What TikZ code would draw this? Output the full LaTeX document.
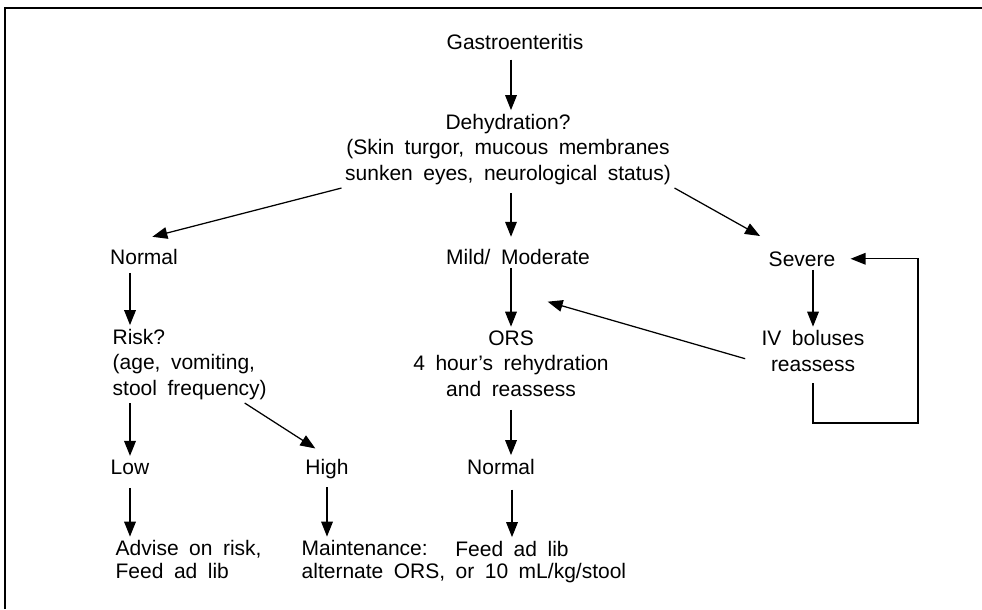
\documentclass[tikz,border=0pt]{standalone}
\usepackage{fontspec}
\setmainfont{Liberation Sans}[WordSpace=1.8]
\usetikzlibrary{arrows.meta}
\begin{document}
\begin{tikzpicture}[
  x=0.6pt, y=-0.6pt,
  txt/.style={font=\fontsize{12.6}{15.3}\selectfont, inner sep=2pt},
  bot/.style={font=\fontsize{12.6}{13.5}\selectfont},
  arr/.style={-{Triangle[length=9pt,width=7pt]}, line width=0.75pt}
]
\useasboundingbox (0,0) rectangle (982,609);
\draw [line width=1.3pt] (5,609) -- (5,8) -- (982,8);

% multi-line nodes sit on the baseline of their last line
\node [txt, anchor=base] (gas) at (515,49) {Gastroenteritis};
\node [txt, anchor=base, align=center] (dehyd) at (508,180) {Dehydration?\\(Skin turgor, mucous membranes\\sunken eyes, neurological status)};

\node [txt, anchor=base] (normal) at (144,264) {Normal};
\node [txt, anchor=base] (mild) at (518,264) {Mild/ Moderate};
\node [txt, anchor=base] (severe) at (802,266) {Severe};

\node [txt, anchor=base west, align=left] (risk) at (109,395) {Risk?\\(age, vomiting,\\stool frequency)};
\node [txt, anchor=base, align=center] (ors) at (511,396) {ORS\\4 hour's rehydration\\and reassess};
\node [txt, anchor=base, align=center] (iv) at (813,371) {IV boluses\\reassess};

\node [txt, anchor=base] (low) at (130,474) {Low};
\node [txt, anchor=base] (high) at (327,474) {High};
\node [txt, anchor=base] (ok) at (501,474) {Normal};

\node [txt, bot, anchor=base west, align=left] (advise) at (112,578) {Advise on risk,\\Feed ad lib};
\node [txt, bot, anchor=base west, align=left] (maint) at (298,578) {Maintenance:\\alternate ORS, or 10 mL/kg/stool};
\node [txt, anchor=base] (feed) at (512,556) {Feed ad lib};

\coordinate (loop) at (918,423);

\draw [arr, shorten <=4pt] (gas.south -| ors) -- (dehyd.north -| ors);
\draw [arr] (dehyd.south west) -- ([xshift=5pt,yshift=5pt]normal.north);
\draw [arr, shorten <=3pt] (dehyd.south -| ors) -- ([yshift=5pt]mild.north -| ors);
\draw [arr] (dehyd.south east) -- ([xshift=-3pt,yshift=7pt]severe.north west);

\draw [arr, shorten <=3pt] (normal.south -| low) -- (risk.north -| low);
\draw [arr] (risk.south -| low) -- (low.north);
\draw [arr] ([xshift=33pt]risk.south) -- ([xshift=-7pt,yshift=4pt]high.north);
\draw [arr, shorten <=6pt] (low) -- (low |- advise.north);
\draw [arr, shorten <=3pt] (high) -- (high |- maint.north);

\draw [arr] (mild.south -| ors) -- (ors);
\draw [arr, shorten <=6pt] (ors) -- (ors |- ok.north);
\draw [arr, shorten <=7pt] (ok.south -| feed) -- (feed);

\draw [arr] (severe.south -| iv) -- (iv);
\draw [arr, shorten <=8pt] ([yshift=-7pt]iv.west) -- ([xshift=22pt,yshift=15pt]ors.north);
\draw [arr, shorten >=7pt] ([yshift=-5pt]iv.south) -- (iv.south |- loop) -- (loop) |- (severe.east);
\end{tikzpicture}
\end{document}
